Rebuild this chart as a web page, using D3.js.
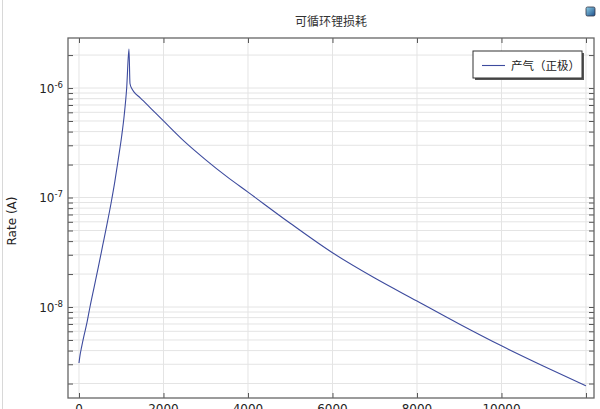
<!DOCTYPE html>
<html>
<head>
<meta charset="utf-8">
<script src="https://cdn.jsdelivr.net/npm/d3@7"></script>
<style>
  html, body { margin: 0; padding: 0; background: #fff; }
  svg { display: block; }
  text { font-family: "DejaVu Sans", "Noto Sans", sans-serif; }
</style>
</head>
<body>
<svg id="chart" width="600" height="409"></svg>
<script>
// ---- data ----
const chartTitle = "可循环锂损耗";
const yAxisTitle = "Rate (A)";
const seriesName = "产气（正极）";
const timeValues = [0, 25, 60, 120, 190, 260, 360, 460, 560, 660, 760, 850, 930, 1010, 1070, 1129, 1183, 1207, 1250, 1300, 1450, 1700, 2000, 2500, 3000, 3500, 4000, 5000, 6000, 7000, 8000, 9000, 10000, 11000, 12000];
const rateValues = [3.08e-9, 3.63e-9, 4.27e-9, 5.5e-9, 7.24e-9, 1.0e-8, 1.53e-8, 2.34e-8, 3.63e-8, 5.62e-8, 8.91e-8, 1.41e-7, 2.24e-7, 3.63e-7, 5.62e-7, 1.0e-6, 2.27e-6, 1.10e-6, 9.89e-7, 9.23e-7, 8.13e-7, 6.53e-7, 5.01e-7, 3.24e-7, 2.21e-7, 1.55e-7, 1.12e-7, 5.82e-8, 3.13e-8, 1.84e-8, 1.135e-8, 7.0e-9, 4.42e-9, 2.88e-9, 1.91e-9];
const xTickValues = [0, 2000, 4000, 6000, 8000, 10000, 12000];
const xTickLabels = ["0", "2000", "4000", "6000", "8000", "10000", ""];
const yMajorExponents = [-8, -7, -6];

// ---- layout ----
const L = 68, R = 594, T = 38, B = 398;
const svg = d3.select("#chart");

const x = d3.scaleLinear().domain([-260, 12190]).range([L, R]);
const y = d3.scaleLog().domain([Math.pow(10, -8.831), Math.pow(10, -5.543)]).range([B, T]);

// window border line on the left
svg.append("line").attr("x1", 2.5).attr("x2", 2.5).attr("y1", 0).attr("y2", 409)
  .attr("stroke", "#d8d8d8").attr("stroke-width", 1);

// minor/major y values
const yAll = [];
for (let e = -9; e <= -5; e++) {
  for (let k = 1; k <= 9; k++) {
    const v = k * Math.pow(10, e);
    if (v >= y.domain()[0] && v <= y.domain()[1]) yAll.push(v);
  }
}

// grid
const grid = svg.append("g");
grid.selectAll("line.gy").data(yAll).enter().append("line")
  .attr("x1", L).attr("x2", R)
  .attr("y1", d => y(d)).attr("y2", d => y(d))
  .attr("stroke", "#e4e4e4").attr("stroke-width", 1);
grid.selectAll("line.gx").data(xTickValues).enter().append("line")
  .attr("x1", d => x(d)).attr("x2", d => x(d))
  .attr("y1", T).attr("y2", B)
  .attr("stroke", "#e4e4e4").attr("stroke-width", 1);

// axes (ticks inward)
const tickLen = 5;
const axLeft = svg.append("g").attr("transform", `translate(${L},0)`)
  .call(d3.axisRight(y).tickValues(yAll).tickSize(tickLen).tickFormat(""));
const axRight = svg.append("g").attr("transform", `translate(${R},0)`)
  .call(d3.axisLeft(y).tickValues(yAll).tickSize(tickLen).tickFormat(""));
const axTop = svg.append("g").attr("transform", `translate(0,${T})`)
  .call(d3.axisBottom(x).tickValues(xTickValues).tickSize(tickLen).tickFormat(""));
const axBottom = svg.append("g").attr("transform", `translate(0,${B})`)
  .call(d3.axisTop(x).tickValues(xTickValues).tickSize(tickLen).tickFormat(""));
[axLeft, axRight, axTop, axBottom].forEach(g => {
  g.select(".domain").remove();
  g.selectAll(".tick line").attr("stroke", "#555").attr("stroke-width", 1);
});

// frame
svg.append("rect").attr("x", L).attr("y", T).attr("width", R - L).attr("height", B - T)
  .attr("fill", "none").attr("stroke", "#666").attr("stroke-width", 1.3);

// y tick labels with superscripts
const yl = svg.append("g");
yMajorExponents.forEach((e) => {
  const v = Math.pow(10, e);
  const t = yl.append("text")
    .attr("x", 63).attr("y", y(v) + 4.5)
    .attr("text-anchor", "end")
    .attr("fill", "#222").attr("font-size", 12);
  t.append("tspan").text("10");
  t.append("tspan").attr("dy", -5).attr("font-size", 8.5).text(String(e));
});

// x tick labels (bottom edge of the window cuts them, as in the reference)
svg.append("g").selectAll("text").data(xTickValues.filter((d, i) => xTickLabels[i] !== ""))
  .enter().append("text")
  .attr("x", d => x(d)).attr("y", 413)
  .attr("text-anchor", "middle").attr("fill", "#222").attr("font-size", 12)
  .text((d, i) => xTickLabels[i]);

// curve
const data = timeValues.map((t, i) => ({ t, v: rateValues[i] }));
const line = d3.line().x(d => x(d.t)).y(d => y(d.v)).curve(d3.curveMonotoneX);
svg.append("path").datum(data).attr("d", line)
  .attr("fill", "none").attr("stroke", "#3d4b9e").attr("stroke-width", 1.1);

// title
svg.append("text").attr("x", (L + R) / 2).attr("y", 26)
  .attr("text-anchor", "middle").attr("fill", "#333").attr("font-size", 12)
  .style("font-family", "'Noto Sans CJK SC', sans-serif")
  .text(chartTitle);

// y axis title
svg.append("text").attr("transform", `translate(16,${221}) rotate(-90)`)
  .attr("text-anchor", "middle").attr("fill", "#222").attr("font-size", 12)
  .text(yAxisTitle);

// legend
const lg = svg.append("g");
lg.append("rect").attr("x", 475).attr("y", 53).attr("width", 109).attr("height", 27)
  .attr("fill", "#555");
lg.append("rect").attr("x", 473).attr("y", 51).attr("width", 109).attr("height", 27)
  .attr("fill", "#fff").attr("stroke", "#333").attr("stroke-width", 1);
lg.append("line").attr("x1", 482).attr("x2", 505).attr("y1", 65.5).attr("y2", 65.5)
  .attr("stroke", "#3d4b9e").attr("stroke-width", 1.1);
lg.append("text").attr("x", 511).attr("y", 69.5)
  .attr("fill", "#222").attr("font-size", 11.5)
  .style("font-family", "'Noto Sans CJK SC', sans-serif")
  .text(seriesName);

// small icon top right
const defs = svg.append("defs");
const grad = defs.append("linearGradient").attr("id", "ig").attr("x1", 0).attr("y1", 0).attr("x2", 1).attr("y2", 1);
grad.append("stop").attr("offset", "0%").attr("stop-color", "#8fd0e8");
grad.append("stop").attr("offset", "100%").attr("stop-color", "#1d4f8a");
svg.append("rect").attr("x", 586).attr("y", 7).attr("width", 9).attr("height", 9).attr("rx", 1.5)
  .attr("fill", "url(#ig)").attr("stroke", "#334").attr("stroke-width", 0.8);
</script>
</body>
</html>
